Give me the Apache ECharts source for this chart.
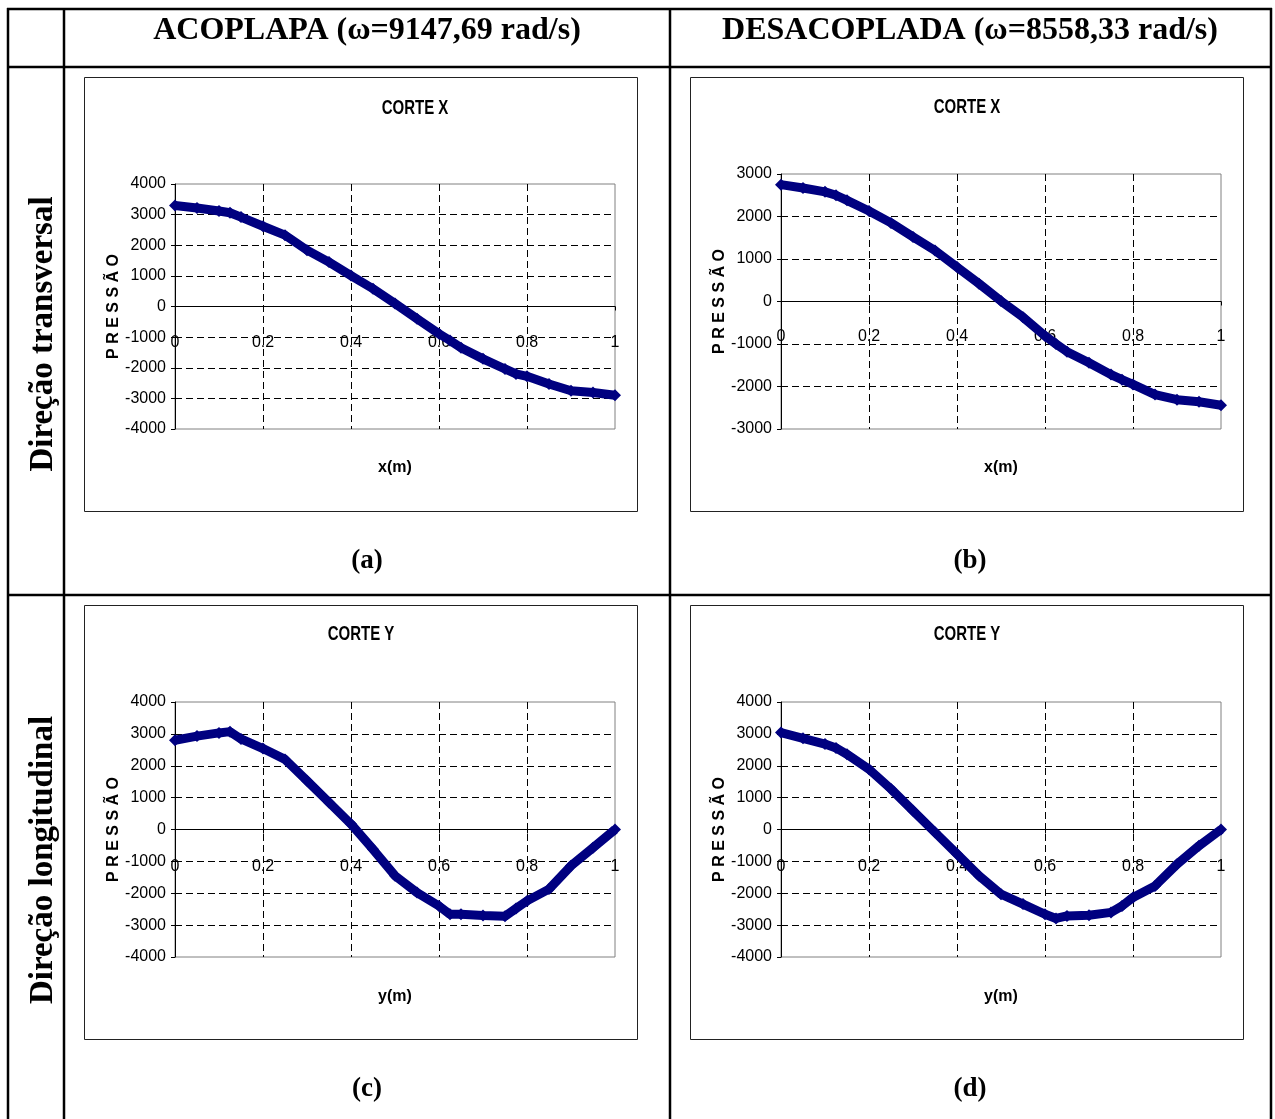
<!DOCTYPE html>
<html>
<head>
<meta charset="utf-8">
<script src="https://cdn.jsdelivr.net/npm/echarts@6/dist/echarts.min.js"></script>
<style>
  html, body { margin: 0; padding: 0; background: #fff; }
  #main { width: 1275px; height: 1119px; }
</style>
</head>
<body>
<div id="main"></div>
<script>
// x positions (m) along the cut
var xPos = [0, 0.05, 0.1, 0.125, 0.15, 0.2, 0.25, 0.3, 0.35, 0.4, 0.45, 0.5,
            0.55, 0.6, 0.625, 0.65, 0.7, 0.75, 0.775, 0.8, 0.85, 0.9, 0.95, 1];

// pressure values
var corteXAcoplada = [3300, 3215, 3120, 3060, 2920, 2620, 2330, 1840, 1450, 1010, 580, 100,
                      -400, -890, -1110, -1350, -1710, -2040, -2200, -2280, -2530, -2750, -2810, -2900];
var corteXDesacoplada = [2750, 2670, 2580, 2500, 2380, 2130, 1850, 1520, 1200, 810, 420, 10,
                         -370, -810, -1000, -1180, -1440, -1720, -1840, -1950, -2190, -2310, -2360, -2440];
var corteYAcoplada = [2800, 2930, 3030, 3070, 2840, 2540, 2200, 1530, 850, 170, -620, -1450,
                      -1980, -2400, -2660, -2660, -2700, -2720, -2480, -2240, -1870, -1140, -570, 0];
var corteYDesacoplada = [3040, 2860, 2680, 2560, 2360, 1890, 1270, 590, -90, -770, -1450, -2030,
                         -2340, -2660, -2790, -2710, -2690, -2600, -2400, -2130, -1770, -1090, -510, 0];

var colHeaders = ['ACOPLAPA (\u03c9=9147,69 rad/s)', 'DESACOPLADA (\u03c9=8558,33 rad/s)'];
var rowHeaders = ['Dire\u00e7\u00e3o transversal', 'Dire\u00e7\u00e3o longitudinal'];
var panelTags = ['(a)', '(b)', '(c)', '(d)'];
var chartTitles = ['CORTE X', 'CORTE X', 'CORTE Y', 'CORTE Y'];
var xNames = ['x(m)', 'x(m)', 'y(m)', 'y(m)'];
var yName = 'P R E S S \u00c3 O';
var yRanges = [[-4000, 4000], [-3000, 3000], [-4000, 4000], [-4000, 4000]];

var sans = "'Liberation Sans', Arial, sans-serif";
var serif = "'Liberation Serif', 'Times New Roman', serif";

// plot rectangles [left, top, width, height] and chart frames
var plots = [[175, 184, 440, 245], [781, 174, 440, 255], [175, 702, 440, 255], [781, 702, 440, 255]];
var frames = [[84, 77, 553, 434], [690, 77, 553, 434], [84, 605, 553, 434], [690, 605, 553, 434]];
var titlePos = [[415, 108], [967, 107], [361, 634], [967, 634]];
// x labels / names are laid out from the plot bottom
var labelMargins = [-94, -100, -98, -98];
var nameGaps = [31, 31, 32, 32];

var allSeries = [corteXAcoplada, corteXDesacoplada, corteYAcoplada, corteYDesacoplada];

var chart = echarts.init(document.getElementById('main'));

var grids = [], xAxes = [], yAxes = [], series = [], graphics = [];

plots.forEach(function (p, i) {
  grids.push({
    left: p[0], top: p[1], width: p[2], height: p[3],
    show: true, borderColor: '#808080', borderWidth: 1, backgroundColor: 'transparent'
  });
  xAxes.push({
    type: 'value', gridIndex: i, min: 0, max: 1, interval: 0.2,
    name: xNames[i], nameLocation: 'middle', nameGap: nameGaps[i],
    nameTextStyle: { fontFamily: sans, fontWeight: 'bold', fontSize: 16, color: '#000' },
    axisLine: { onZero: true, lineStyle: { color: '#000', width: 1 } },
    axisTick: { show: true, length: 4, lineStyle: { color: '#000' } },
    axisLabel: { margin: labelMargins[i], fontFamily: sans, fontSize: 16, color: '#000',
                 formatter: function (v) { return String(Math.round(v * 10) / 10); } },
    splitLine: { show: true, showMinLine: false, showMaxLine: false,
                 lineStyle: { color: '#000', type: [7, 4], width: 1 } }
  });
  yAxes.push({
    type: 'value', gridIndex: i, min: yRanges[i][0], max: yRanges[i][1], interval: 1000,
    name: yName, nameLocation: 'middle', nameGap: 51,
    nameTextStyle: { fontFamily: sans, fontWeight: 'bold', fontSize: 16, color: '#000' },
    axisLine: { show: true, lineStyle: { color: '#000', width: 1 } },
    axisTick: { show: true, length: 4, lineStyle: { color: '#000' } },
    axisLabel: { margin: 9, fontFamily: sans, fontSize: 16, color: '#000',
                 formatter: function (v) { return String(v); } },
    splitLine: { show: true, showMinLine: false, showMaxLine: false,
                 lineStyle: { color: '#000', type: [7, 4], width: 1 } }
  });
  series.push({
    type: 'line', xAxisIndex: i, yAxisIndex: i,
    data: xPos.map(function (x, k) { return [x, allSeries[i][k]]; }),
    symbol: 'diamond', symbolSize: 12, showAllSymbol: true,
    lineStyle: { color: '#000080', width: 9 },
    itemStyle: { color: '#000080' },
    animation: false
  });
  var f = frames[i];
  graphics.push({
    type: 'rect', shape: { x: f[0] + 0.5, y: f[1] + 0.5, width: f[2], height: f[3] },
    style: { fill: 'none', stroke: '#222', lineWidth: 1 }, z: -1
  });
  graphics.push({
    type: 'text', x: titlePos[i][0], y: titlePos[i][1], scaleY: 1.35,
    style: { text: chartTitles[i], font: 'bold 15px ' + sans, fill: '#000',
             textAlign: 'center', textVerticalAlign: 'middle' }
  });
});

// table lines
var lw = 2.5;
function hLine(y) {
  return { type: 'line', shape: { x1: 7, y1: y, x2: 1272, y2: y }, style: { stroke: '#000', lineWidth: lw } };
}
function vLine(x) {
  return { type: 'line', shape: { x1: x, y1: 8, x2: x, y2: 1119 }, style: { stroke: '#000', lineWidth: lw } };
}
graphics.push(hLine(9), hLine(67), hLine(595));
graphics.push(vLine(8), vLine(64), vLine(670), vLine(1271));

// column and row headers, panel tags
var colCenters = [367, 970];
colHeaders.forEach(function (t, i) {
  graphics.push({
    type: 'text', x: colCenters[i], y: 31,
    style: { text: t, font: 'bold 32px ' + serif, fill: '#000',
             textAlign: 'center', textVerticalAlign: 'middle' }
  });
});
var rowCenters = [334, 860];
rowHeaders.forEach(function (t, i) {
  graphics.push({
    type: 'text', x: 43, y: rowCenters[i], rotation: Math.PI / 2,
    style: { text: t, font: 'bold 33px ' + serif, fill: '#000',
             textAlign: 'center', textVerticalAlign: 'middle' }
  });
});
var tagPos = [[367, 561], [970, 561], [367, 1089], [970, 1089]];
panelTags.forEach(function (t, i) {
  graphics.push({
    type: 'text', x: tagPos[i][0], y: tagPos[i][1],
    style: { text: t, font: 'bold 27px ' + serif, fill: '#000',
             textAlign: 'center', textVerticalAlign: 'middle' }
  });
});

chart.setOption({
  animation: false,
  backgroundColor: '#fff',
  grid: grids,
  xAxis: xAxes,
  yAxis: yAxes,
  series: series,
  graphic: graphics
});
</script>
</body>
</html>
